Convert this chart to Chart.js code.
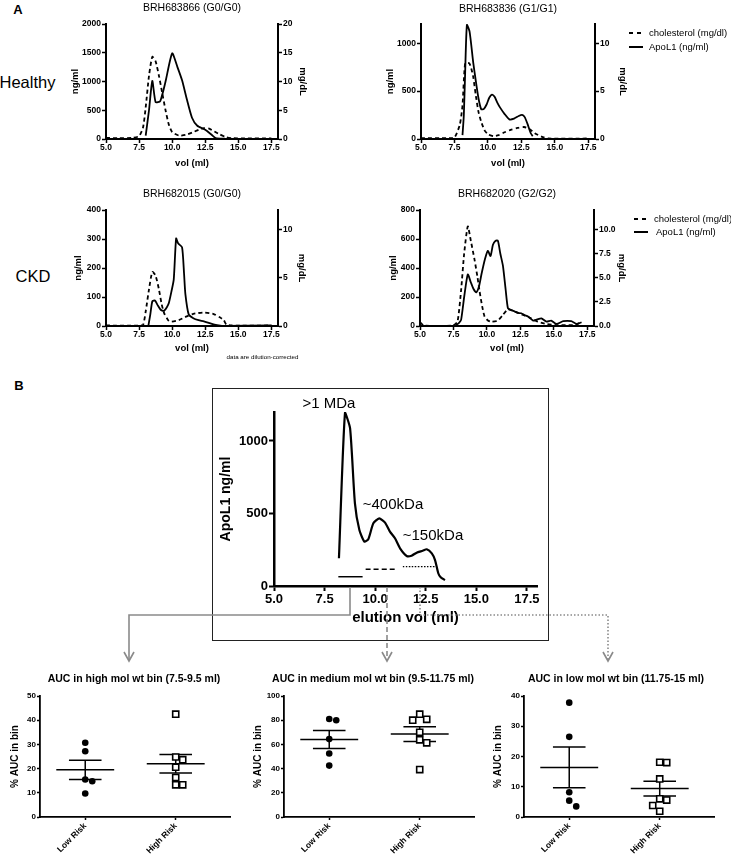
<!DOCTYPE html>
<html>
<head>
<meta charset="utf-8">
<script src="https://cdn.jsdelivr.net/npm/chart.js@4.4.1/dist/chart.umd.min.js"></script>
<style>
  body { margin: 0; background: #fff; font-family: "Liberation Sans", Arial, sans-serif; color: #000; }
  #page { position: relative; width: 731px; height: 858px; overflow: hidden; }
  #page canvas { position: absolute; }
  .t { position: absolute; white-space: nowrap; transform: translate(-50%, -50%); line-height: 1; }
  .key { position: absolute; height: 2px; width: 14px; }
  #boxB { position: absolute; left: 212px; top: 388px; width: 335px; height: 251px; border: 1px solid #222; }
  #links { position: absolute; left: 0; top: 0; }
</style>
</head>
<body>
<div id="page">
  <div id="boxB"></div>
</div>
<script>
// ---- data ----
const volTicks = [5, 7.5, 10, 12.5, 15, 17.5];

// BRH683866 (G0/G0), healthy
const h1ApoVol  = [8.0, 8.25, 8.5, 8.75, 9.1, 9.5, 10.0, 10.4, 10.75, 11.1, 11.5, 11.9, 12.5, 13.0, 13.3, 14.0];
const h1Apo     = [60, 500, 1010, 640, 660, 1000, 1490, 1250, 1020, 700, 370, 230, 160, 70, 15, 5];
const h1CholVol = [5.0, 6.0, 7.0, 7.5, 7.8, 8.0, 8.25, 8.5, 8.75, 9.0, 9.25, 9.5, 9.75, 10.0, 10.5, 11.0, 11.5, 12.0, 12.4, 12.8, 13.2, 13.6, 14.1, 14.5, 15.5, 17.5];
const h1Chol    = [0.2, 0.15, 0.2, 0.5, 2.0, 5.5, 11, 14.3, 13.5, 11, 8, 5.0, 2.5, 1.2, 0.6, 0.7, 1.1, 1.6, 1.9, 1.8, 1.3, 0.8, 0.3, 0.15, 0.1, 0.1];

// BRH683836 (G1/G1), healthy
const h2ApoVol  = [8.1, 8.2, 8.3, 8.43, 8.63, 8.9, 9.1, 9.3, 9.5, 9.7, 9.9, 10.1, 10.3, 10.5, 10.7, 10.9, 11.25, 11.6, 11.95, 12.3, 12.55, 12.75, 12.95, 13.2, 13.35];
const h2Apo     = [40, 250, 700, 1190, 1120, 800, 600, 420, 310, 315, 360, 430, 462, 440, 380, 330, 260, 205, 212, 240, 252, 228, 160, 60, 30];
const h2CholVol = [5.0, 7.0, 7.5, 7.9, 8.1, 8.3, 8.6, 8.75, 8.9, 9.1, 9.3, 9.5, 9.75, 10.0, 10.4, 10.8, 11.25, 11.7, 12.2, 12.7, 13.1, 13.5, 14.0, 14.5, 17.5];
const h2Chol    = [0.1, 0.1, 0.15, 1.5, 3.5, 7.9, 7.9, 7.4, 6.5, 4.5, 2.8, 1.8, 0.9, 0.5, 0.3, 0.4, 0.7, 0.95, 1.15, 1.25, 1.05, 0.6, 0.25, 0.05, 0.05];

// BRH682015 (G0/G0), CKD
const c1ApoVol  = [8.2, 8.35, 8.5, 8.7, 8.9, 9.13, 9.37, 9.6, 9.75, 9.95, 10.12, 10.3, 10.45, 10.75, 10.9, 11.0, 11.25, 11.6, 12.0, 12.4, 13.0, 13.4, 14.0, 17.5];
const c1Apo     = [0, 40, 85, 88, 72, 56, 52, 65, 79, 120, 160, 302, 285, 271, 180, 110, 40, 27, 20, 16, 7, 3, 0, 2];
const c1CholVol = [5.0, 7.5, 7.8, 8.0, 8.25, 8.5, 8.75, 9.0, 9.2, 9.4, 9.7, 9.9, 10.5, 11.1, 11.6, 12.4, 13.1, 13.6, 13.9, 14.1, 14.5, 17.5];
const c1Chol    = [0.05, 0.05, 0.1, 1.5, 3.8, 5.6, 5.2, 3.8, 2.3, 1.3, 0.6, 0.45, 0.6, 1.0, 1.26, 1.4, 1.26, 0.9, 0.6, 0.15, 0.05, 0.05];

// BRH682020 (G2/G2), CKD
const c2ApoVol  = [7.7, 7.9, 8.07, 8.3, 8.57, 8.8, 9.0, 9.2, 9.4, 9.6, 9.85, 10.07, 10.27, 10.45, 10.65, 10.82, 11.0, 11.2, 11.4, 11.57, 11.8, 12.07, 12.3, 12.57, 12.8, 13.07, 13.45, 13.75, 14.07, 14.45, 14.8, 15.2, 15.7, 16.3, 16.7, 17.07];
const c2Apo     = [7, 20, 42, 200, 356, 300, 255, 232, 270, 360, 460, 518, 483, 560, 588, 588, 500, 413, 250, 123, 110, 100, 90, 88, 75, 65, 37, 45, 53, 30, 37, 14, 33, 33, 14, 26];
const c2CholVol = [5.0, 5.3, 7.45, 7.8, 8.07, 8.3, 8.57, 8.8, 9.07, 9.3, 9.45, 9.65, 9.82, 10.05, 10.3, 10.8, 11.2, 11.57, 12.07, 12.7, 13.3, 13.8, 14.45, 15.2, 16.5, 17.1];
const c2Chol    = [0.4, 0.05, 0.05, 0.45, 3.7, 7.5, 10.3, 8.8, 6.9, 5.0, 3.6, 2.0, 1.0, 0.6, 0.45, 0.55, 1.15, 1.73, 1.5, 1.15, 0.8, 0.45, 0.2, 0.1, 0.1, 0.4];

// panel B: ApoL1 profile of BRH683836 with the three bins
const bVol = [8.21, 8.51, 8.76, 9.0, 9.22, 9.47, 9.66, 9.91, 10.2, 10.49, 10.73, 10.98, 11.23, 11.56, 11.8, 12.05, 12.35, 12.55, 12.8, 12.96, 13.12, 13.24, 13.45];
const bApo = [191, 1195, 1088, 570, 386, 306, 322, 432, 467, 437, 375, 329, 260, 207, 209, 230, 243, 253, 225, 179, 88, 60, 41];
const binStart = [8.18, 9.53, 11.37];
const binEnd   = [9.38, 10.97, 13.0];
const binLevel = [64, 115, 133];

// AUC per bin (% of total), Low Risk vs High Risk
const groups = ["Low Risk", "High Risk"];
const hiLow  = [30.7, 27.2, 15.5, 14.8, 9.7];
const hiHigh = [42.5, 24.8, 23.7, 20.6, 16.3, 13.3, 13.3];
const hiMean = [19.5, 22.0];
const hiSem  = [4.0, 3.85];
const medLow  = [81, 80, 64.4, 52.5, 42.5];
const medHigh = [85, 80.7, 80, 70, 63.8, 61.3, 39.2];
const medMean = [64.1, 68.5];
const medSem  = [7.4, 6.1];
const loLow  = [37.8, 26.5, 8.2, 5.4, 3.5];
const loHigh = [18.1, 18.0, 12.6, 6.0, 5.6, 3.8, 1.9];
const loMean = [16.4, 9.4];
const loSem  = [6.7, 2.45];

// ---- helpers ----
Chart.defaults.font.family = "'Liberation Sans', Arial, sans-serif";
Chart.defaults.color = "#000";

const page = document.getElementById("page");

function addText(str, x, y, css) {
  const d = document.createElement("div");
  d.className = "t";
  d.textContent = str;
  d.style.left = x + "px";
  d.style.top = y + "px";
  if (css) d.style.cssText += css;
  page.appendChild(d);
  return d;
}

function addCanvas(x, y, w, h) {
  const c = document.createElement("canvas");
  c.width = w; c.height = h;
  c.style.left = x + "px"; c.style.top = y + "px";
  c.style.width = w + "px"; c.style.height = h + "px";
  page.appendChild(c);
  return c;
}

const pts = (xs, ys) => xs.map((x, i) => ({ x, y: ys[i] }));
const fixTicks = arr => s => { s.ticks = arr.map(v => ({ value: v })); };
const plain = v => String(v);

function axis(borderW, tickLen, tickW) {
  return {
    border: { display: true, color: "#000", width: borderW },
    grid: { drawOnChartArea: false, drawTicks: true, tickLength: tickLen, tickWidth: tickW, tickColor: "#000" }
  };
}

// elution profile with ApoL1 (left) and cholesterol (right)
function profile(p) {
  const L = 60, R = 44, T = 12, B = 32;
  const cv = addCanvas(p.x0 - L, p.y0 - T, p.x1 - p.x0 + L + R, p.y1 - p.y0 + T + B);
  const tickFont  = { size: 8.5, weight: "bold" };
  const titleFont = { size: 9.5, weight: "bold" };   // lineHeight 11.4

  new Chart(cv, {
    type: "line",
    data: {
      datasets: [
        { data: pts(p.apoVol, p.apo), yAxisID: "y" },
        { data: pts(p.cholVol, p.chol), yAxisID: "y1", borderDash: [4, 3] }
      ]
    },
    options: {
      responsive: false,
      animation: false,
      layout: { padding: { top: T } },
      elements: {
        point: { radius: 0 },
        line: { borderColor: "#000", borderWidth: 1.8, tension: 0.2 }
      },
      plugins: { legend: { display: false }, tooltip: { enabled: false } },
      scales: {
        x: {
          type: "linear", min: 5, max: 18,
          afterBuildTicks: fixTicks(volTicks),
          afterFit: s => { s.height = B; },
          ticks: { font: tickFont, padding: 0, maxRotation: 0, autoSkip: false, callback: v => v.toFixed(1) },
          title: { display: true, text: "vol (ml)", font: titleFont,
                   padding: { top: 0, bottom: p.y1 + B - 5.7 - p.xTitleY } },
          ...axis(2, 4, 1.5)
        },
        y: {
          position: "left", min: 0, max: p.yMax,
          afterBuildTicks: fixTicks(p.yTicks),
          afterFit: s => { s.width = L; },
          ticks: { font: tickFont, padding: 1, autoSkip: false, callback: plain },
          title: { display: true, text: "ng/ml", font: titleFont,
                   padding: { top: p.leftTitleX - (p.x0 - L) - 5.7, bottom: 0 } },
          ...axis(2, 4, 1.5)
        },
        y1: {
          position: "right", min: 0, max: p.y1Max,
          afterBuildTicks: fixTicks(p.y1Ticks),
          afterFit: s => { s.width = R; },
          ticks: { font: tickFont, padding: 1, autoSkip: false,
                   callback: v => p.y1Dec ? v.toFixed(1) : String(v) },
          title: { display: true, text: "mg/dL", font: titleFont,
                   padding: { top: (p.x1 + R) - p.rightTitleX - 5.7, bottom: 0 } },
          ...axis(2, 4, 1.5)
        }
      }
    }
  });

  addText(p.title, (p.x0 + p.x1) / 2, p.titleY, "font-size:10.5px;");
}

// spread overlapping points sideways, like the dot plots do
function swarm(vals, cx, pxPerUnit, slotW) {
  const placed = [];
  return vals.map(v => {
    const s = [0, 1, -1, 2, -2].find(k =>
      !placed.some(q => q.k === k && Math.abs(q.v - v) * pxPerUnit < 7));
    placed.push({ k: s, v });
    return { x: cx + s * slotW, y: v };
  });
}

function seg(x0, y0, x1, y1) {
  return { data: [{ x: x0, y: y0 }, { x: x1, y: y1 }], showLine: true, pointRadius: 0,
           borderColor: "#000", borderWidth: 1.5 };
}

function aucPanel(p) {
  const L = 40, R = 12, T = 10, B = 44;
  const y0 = 696, y1 = 817, w = 190;
  const cv = addCanvas(p.x0 - L, y0 - T, w + L + R, y1 - y0 + T + B);
  const xMin = 0.5, xMax = 2.6;
  const pxX = w / (xMax - xMin);
  const pxY = (y1 - y0) / p.yMax;
  const slot = 7 / pxX;

  const lines = [];
  p.mean.forEach((m, i) => {
    const c = i + 1, s = p.sem[i];
    lines.push(seg(c - 0.32, m, c + 0.32, m));
    lines.push(seg(c - 0.18, m + s, c + 0.18, m + s));
    lines.push(seg(c - 0.18, m - s, c + 0.18, m - s));
    lines.push(seg(c, m - s, c, m + s));
  });

  new Chart(cv, {
    type: "scatter",
    data: {
      datasets: [
        { data: swarm(p.low, 1, pxY, slot), pointStyle: "circle", pointRadius: 3.3,
          backgroundColor: "#000", borderWidth: 0 },
        { data: swarm(p.high, 2, pxY, slot), pointStyle: "rect", pointRadius: 4.3,
          backgroundColor: "#fff", borderColor: "#000", borderWidth: 1.6 },
        ...lines
      ]
    },
    options: {
      responsive: false,
      animation: false,
      layout: { padding: { top: T, right: R } },
      plugins: { legend: { display: false }, tooltip: { enabled: false } },
      scales: {
        x: {
          type: "linear", min: xMin, max: xMax,
          afterBuildTicks: fixTicks([1, 2]),
          afterFit: s => { s.height = B; },
          ticks: { font: { size: 8.5, weight: "bold" }, padding: 1, minRotation: 45, maxRotation: 45,
                   autoSkip: false, callback: v => groups[v - 1] },
          ...axis(1.8, 3, 1.5)
        },
        y: {
          min: 0, max: p.yMax,
          afterBuildTicks: fixTicks(p.yTicks),
          afterFit: s => { s.width = L; },
          ticks: { font: { size: 8, weight: "bold" }, padding: 1, autoSkip: false, callback: plain },
          title: { display: true, text: "% AUC in bin", font: { size: 10, weight: "bold" },
                   padding: { top: p.yTitleX - (p.x0 - L) - 6, bottom: 0 } },
          ...axis(1.8, 3, 1.5)
        }
      }
    }
  });

  addText(p.title, p.titleX, 678, "font-size:10.5px;font-weight:bold;");
}

// ---- panel A ----
addText("A", 18, 9, "font-size:13px;font-weight:bold;");
addText("Healthy", 27.5, 82, "font-size:16.5px;");
addText("CKD", 33, 276, "font-size:16.5px;");

profile({ title: "BRH683866 (G0/G0)", titleY: 7, x0: 106, y0: 24, x1: 278, y1: 139, xTitleY: 163,
          leftTitleX: 75, rightTitleX: 303, yMax: 2000, yTicks: [0, 500, 1000, 1500, 2000],
          y1Max: 20, y1Ticks: [0, 5, 10, 15, 20],
          apoVol: h1ApoVol, apo: h1Apo, cholVol: h1CholVol, chol: h1Chol });

profile({ title: "BRH683836 (G1/G1)", titleY: 7.5, x0: 421, y0: 24, x1: 595, y1: 139, xTitleY: 163,
          leftTitleX: 390, rightTitleX: 623, yMax: 1200, yTicks: [0, 500, 1000],
          y1Max: 12, y1Ticks: [0, 5, 10],
          apoVol: h2ApoVol, apo: h2Apo, cholVol: h2CholVol, chol: h2Chol });

profile({ title: "BRH682015 (G0/G0)", titleY: 192.5, x0: 106, y0: 210, x1: 278, y1: 326, xTitleY: 348,
          leftTitleX: 78, rightTitleX: 302, yMax: 400, yTicks: [0, 100, 200, 300, 400],
          y1Max: 12, y1Ticks: [0, 5, 10],
          apoVol: c1ApoVol, apo: c1Apo, cholVol: c1CholVol, chol: c1Chol });

profile({ title: "BRH682020 (G2/G2)", titleY: 192.5, x0: 420, y0: 210, x1: 594, y1: 326, xTitleY: 348,
          leftTitleX: 393, rightTitleX: 622, yMax: 800, yTicks: [0, 200, 400, 600, 800],
          y1Max: 12, y1Ticks: [0, 2.5, 5, 7.5, 10], y1Dec: true,
          apoVol: c2ApoVol, apo: c2Apo, cholVol: c2CholVol, chol: c2Chol });

addText("data are dilution-corrected", 262.5, 357, "font-size:6.2px;");

// legends
function legend(x, y, gap, dx) {
  const dash = document.createElement("div");
  dash.className = "key";
  dash.style.cssText += `left:${x}px;top:${y - 1}px;background:repeating-linear-gradient(90deg,#000 0 4px,transparent 4px 8px);`;
  page.appendChild(dash);
  const solid = document.createElement("div");
  solid.className = "key";
  solid.style.cssText += `left:${x}px;top:${y + gap - 1}px;background:#000;`;
  page.appendChild(solid);
  addText("cholesterol (mg/dl)", x + 20, y, "font-size:9.5px;transform:translate(0,-50%);");
  addText("ApoL1 (ng/ml)", x + 20 + dx, y + gap, "font-size:9.5px;transform:translate(0,-50%);");
}
legend(629, 32.5, 14, 0);
legend(634, 218.5, 13.5, 2);

// ---- panel B ----
addText("B", 19, 385, "font-size:13px;font-weight:bold;");

const cvB = addCanvas(214, 392, 346, 239);
new Chart(cvB, {
  type: "line",
  data: {
    datasets: [
      { data: pts(bVol, bApo), borderWidth: 2.2 },
      { data: pts([binStart[0], binEnd[0]], [binLevel[0], binLevel[0]]), borderWidth: 1.5 },
      { data: pts([binStart[1], binEnd[1]], [binLevel[1], binLevel[1]]), borderWidth: 1.5, borderDash: [5, 3] },
      { data: pts([binStart[2], binEnd[2]], [binLevel[2], binLevel[2]]), borderWidth: 1.2, borderDash: [1.5, 1.5] }
    ]
  },
  options: {
    responsive: false,
    animation: false,
    layout: { padding: { top: 20, right: 23 } },
    elements: { point: { radius: 0 }, line: { borderColor: "#000", tension: 0.2 } },
    plugins: { legend: { display: false }, tooltip: { enabled: false } },
    scales: {
      x: {
        type: "linear", min: 5, max: 18,
        afterBuildTicks: fixTicks(volTicks),
        afterFit: s => { s.height = 45; },
        ticks: { font: { size: 13, weight: "bold" }, padding: 1, maxRotation: 0, autoSkip: false,
                 callback: v => v.toFixed(1) },
        title: { display: true, text: "elution vol (ml)", font: { size: 15, weight: "bold" },
                 padding: { top: 0, bottom: 4 } },
        ...axis(2.5, 5, 2)
      },
      y: {
        min: 0, max: 1200,
        afterBuildTicks: fixTicks([0, 500, 1000]),
        afterFit: s => { s.width = 60; },
        ticks: { font: { size: 13, weight: "bold" }, padding: 1, autoSkip: false, callback: plain },
        title: { display: true, text: "ApoL1 ng/ml", font: { size: 14, weight: "bold" },
                 padding: { top: 3.6, bottom: 0 } },
        ...axis(2.5, 5, 2)
      }
    }
  }
});

addText(">1 MDa", 329, 402, "font-size:15px;");
addText("~400kDa", 393, 503, "font-size:15px;");
addText("~150kDa", 433, 534, "font-size:15px;");

// connectors from the bins to the dot plots
const svgNS = "http://www.w3.org/2000/svg";
const svg = document.createElementNS(svgNS, "svg");
svg.setAttribute("id", "links");
svg.setAttribute("width", 731);
svg.setAttribute("height", 858);
page.appendChild(svg);

function link(d, dash, tipX) {
  const path = document.createElementNS(svgNS, "path");
  path.setAttribute("d", d);
  path.setAttribute("fill", "none");
  path.setAttribute("stroke", "#8a8a8a");
  path.setAttribute("stroke-width", "1.6");
  if (dash) path.setAttribute("stroke-dasharray", dash);
  svg.appendChild(path);
  const head = document.createElementNS(svgNS, "polyline");
  head.setAttribute("points", `${tipX - 5},652 ${tipX},661 ${tipX + 5},652`);
  head.setAttribute("fill", "none");
  head.setAttribute("stroke", "#8a8a8a");
  head.setAttribute("stroke-width", "1.6");
  svg.appendChild(head);
}
link("M350,587 V615 H129 V661", null, 129);
link("M387,587 V661", "5 3", 387);
link("M420,587 V615 H608 V661", "1.5 2", 608);

// ---- dot plots ----
aucPanel({ title: "AUC in high mol wt bin (7.5-9.5 ml)", titleX: 134, x0: 40, yTitleX: 15,
           yMax: 50, yTicks: [0, 10, 20, 30, 40, 50],
           low: hiLow, high: hiHigh, mean: hiMean, sem: hiSem });
aucPanel({ title: "AUC in medium mol wt bin (9.5-11.75 ml)", titleX: 373, x0: 284, yTitleX: 258,
           yMax: 100, yTicks: [0, 20, 40, 60, 80, 100],
           low: medLow, high: medHigh, mean: medMean, sem: medSem });
aucPanel({ title: "AUC in low mol wt bin (11.75-15 ml)", titleX: 616, x0: 524, yTitleX: 498,
           yMax: 40, yTicks: [0, 10, 20, 30, 40],
           low: loLow, high: loHigh, mean: loMean, sem: loSem });
</script>
</body>
</html>
